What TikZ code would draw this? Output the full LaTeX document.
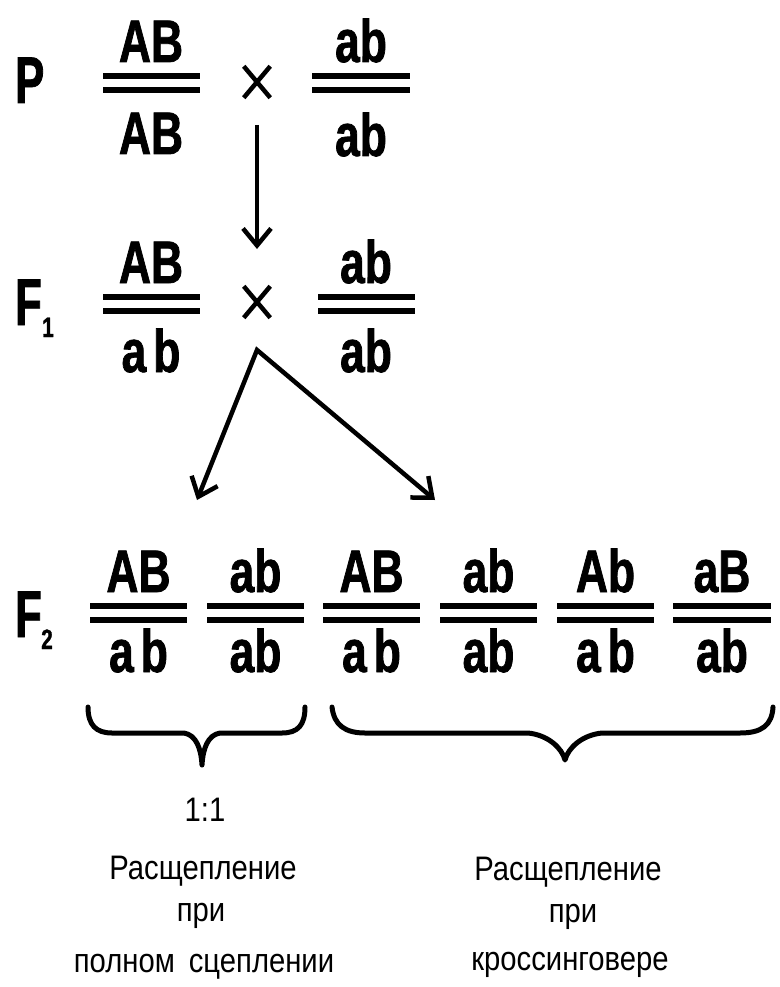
\documentclass[tikz,border=0pt]{standalone}
\usepackage{fontspec}
\setmainfont{Liberation Sans}
\newfontfamily\genefont[FakeStretch=0.74, BoldFont={Liberation Sans Bold}, BoldFeatures={FakeStretch=0.74, FakeBold=1.2}]{Liberation Sans}
\newfontfamily\genlabelfont[FakeStretch=0.66, BoldFont={Liberation Sans Bold}, BoldFeatures={FakeStretch=0.66, FakeBold=1.2}]{Liberation Sans}
\newfontfamily\notefont[FakeStretch=0.86]{Liberation Sans}
\usetikzlibrary{arrows.meta,shapes.misc}

% a pair of homologous chromosomes: two thick parallel bars
\newcommand\chrpair[3]{%
  \draw[chrom] (#1,#3) -- (#2,#3);
  \draw[chrom] (#1,#3+14) -- (#2,#3+14);}

\begin{document}
\begin{tikzpicture}[x=1pt,y=-1pt,
  gene/.style={inner sep=0pt, anchor=base, font=\genefont\bfseries\fontsize{60}{60}\selectfont},
  genlabel/.style={inner sep=0pt, anchor=base west, font=\genlabelfont\bfseries\fontsize{66}{66}\selectfont},
  gensub/.style={inner sep=0pt, anchor=base west, font=\genefont\bfseries\fontsize{28}{28}\selectfont},
  note/.style={inner sep=0pt, anchor=base, font=\notefont\fontsize{34}{34}\selectfont},
  chrom/.style={line width=6.5pt},
  crossing/.style={cross out, draw, line width=4.5pt, minimum width=22pt, minimum height=27pt, inner sep=0pt},
  arr/.style={line width=4.5pt, line join=miter, -{Straight Barb[length=17pt,width=28pt]}},
  twoarr/.style={line width=4.5pt, line join=miter, {Straight Barb[length=17pt,width=28pt]}-{Straight Barb[length=17pt,width=28pt]}},
  brace/.style={line width=5pt, line cap=round, line join=round}]
\useasboundingbox (0,0) rectangle (779,987);

% ---------- parents ----------
\node[genlabel] (P) at (15,103) {P};
\node[gene] (p1t) at (151,62) {AB};
\chrpair{103}{200}{76}
\node[gene] (p1b) at (151,154) {AB};
\node[crossing] (x1) at (257,82) {};
\node[gene] (p2t) at (361,62) {ab};
\chrpair{312}{410}{76}
\node[gene] (p2b) at (361,156) {ab};

% ---------- F1 ----------
\node[genlabel] (F1) at (15,325) {F};
\node[gensub] (F1s) at (42,337) {1};
\node[gene] (f1t) at (151,283) {AB};
\chrpair{103}{200}{297}
\node[gene] (f1b) at (151,372) {a\hspace{7pt}b};
\node[crossing] (x2) at (257,302) {};
\node[gene] (f2t) at (366,283) {ab};
\chrpair{318}{415}{297}
\node[gene] (f2b) at (366,372) {ab};

% arrow from the parental cross to F1
\coordinate (down0) at (257,125);
\coordinate (down1) at (257,249);
\draw[arr] (down0) -- (down1);

% arrows from the F1 cross to the two kinds of offspring
\coordinate (apex) at (257,350);
\coordinate (toL) at (197,500);
\coordinate (toR) at (435,500);
\draw[twoarr] (toL) -- (apex) -- (toR);

% ---------- F2 ----------
\node[genlabel] (F2) at (15,637) {F};
\node[gensub] (F2s) at (41,649) {2};
\node[gene] (g1t) at (138.5,592) {AB};
\chrpair{90}{187}{606}
\node[gene] (g1b) at (138.5,672) {a\hspace{7pt}b};
\node[gene] (g2t) at (255.5,592) {ab};
\chrpair{207}{304}{606}
\node[gene] (g2b) at (255.5,672) {ab};
\node[gene] (g3t) at (371.5,592) {AB};
\chrpair{323}{420}{606}
\node[gene] (g3b) at (371.5,672) {a\hspace{7pt}b};
\node[gene] (g4t) at (488.5,592) {ab};
\chrpair{440}{537}{606}
\node[gene] (g4b) at (488.5,672) {ab};
\node[gene] (g5t) at (605.5,592) {Ab};
\chrpair{557}{654}{606}
\node[gene] (g5b) at (605.5,672) {a\hspace{7pt}b};
\node[gene] (g6t) at (722,592) {aB};
\chrpair{673}{771}{606}
\node[gene] (g6b) at (722,672) {ab};

% ---------- braces ----------
\draw[brace] (88,707) .. controls (88,725) and (96,733) .. (112,733) -- (184,733)
  .. controls (196,735) and (201,748) .. (202,765)
  .. controls (203,748) and (208,735) .. (220,733) -- (282,733)
  .. controls (298,733) and (305,725) .. (305,707);
\draw[brace] (332,707) .. controls (334,725) and (345,733) .. (365,733) -- (528,733)
  .. controls (548,735) and (562,748) .. (565,760)
  .. controls (568,748) and (582,735) .. (602,733) -- (740,733)
  .. controls (762,733) and (772,725) .. (773,707);

% ---------- captions ----------
\node[note] (ratio) at (205,821) {1:1};
\node[note] (l1) at (203,879) {Расщепление};
\node[note] (l2) at (201,921) {при};
\node[note] (l3) at (204,972) {полном\hspace{14pt}сцеплении};
\node[note] (r1) at (568,880) {Расщепление};
\node[note] (r2) at (573,922) {при};
\node[note] (r3) at (570,970) {кроссинговере};
\end{tikzpicture}
\end{document}
